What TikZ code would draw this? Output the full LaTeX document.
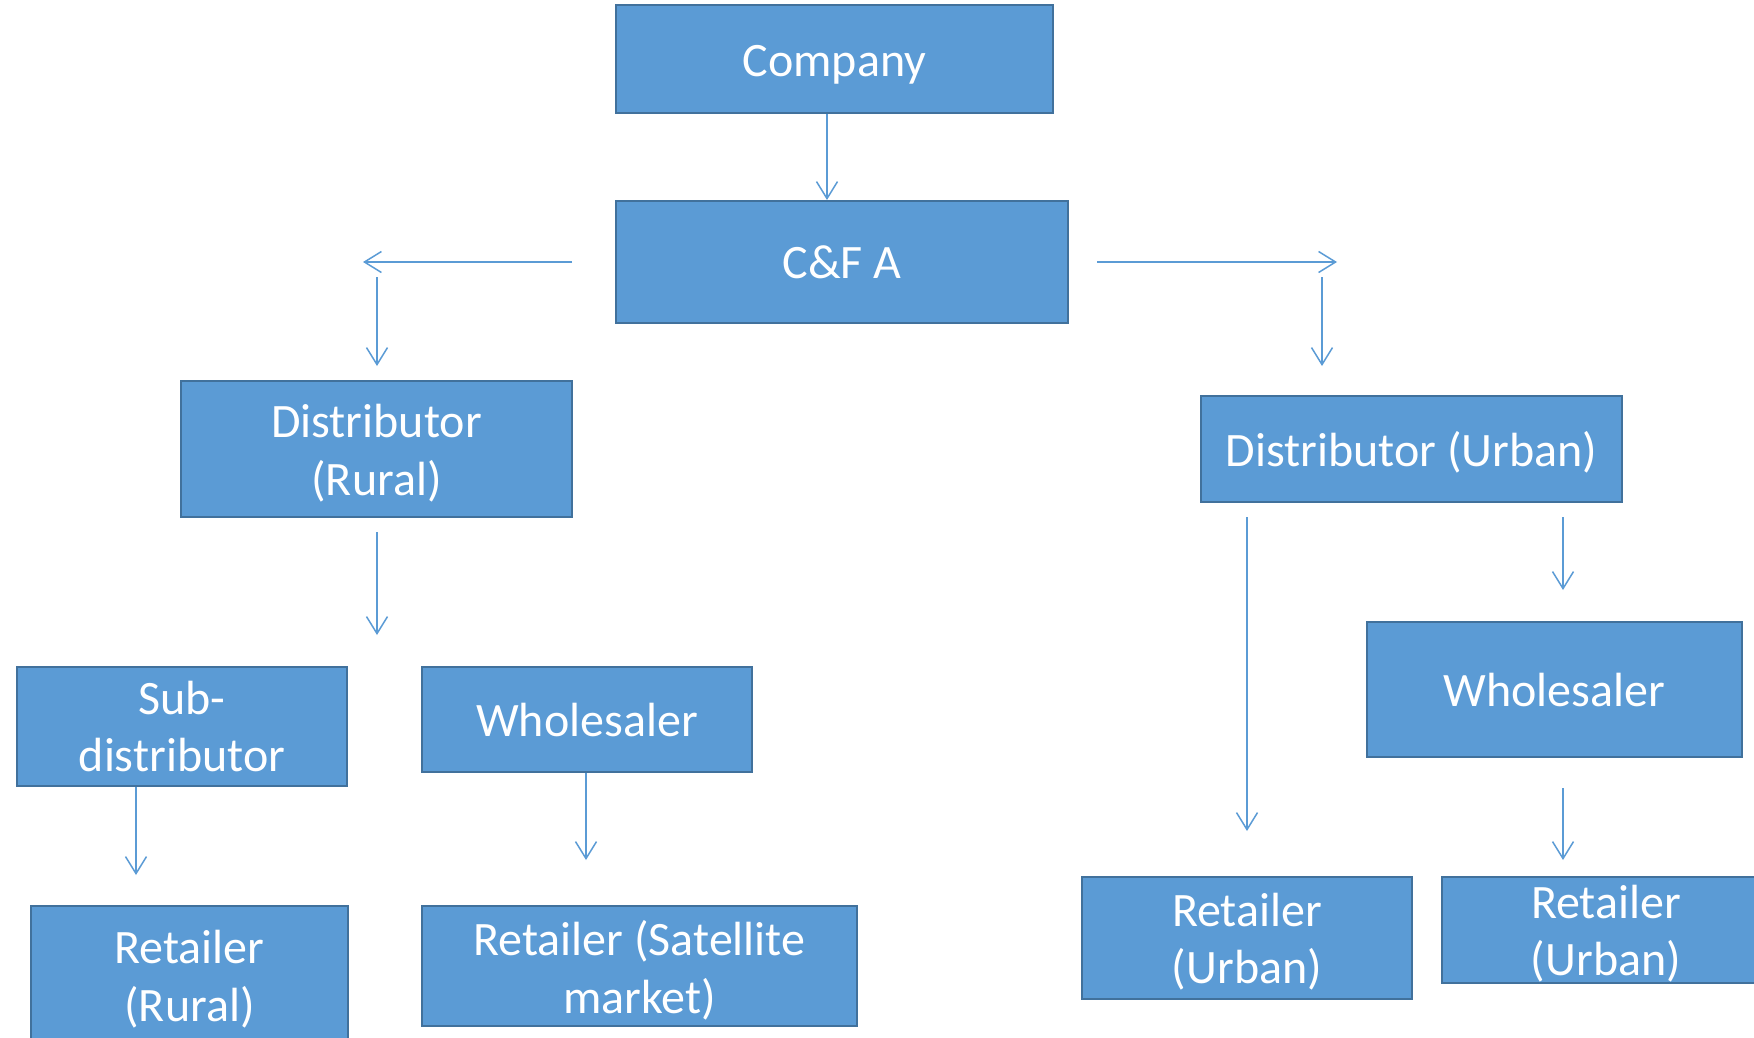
\documentclass[tikz,border=0pt]{standalone}
\usepackage{fontspec}
\setmainfont{Carlito}
\usetikzlibrary{arrows.meta,calc}
\definecolor{boxfill}{HTML}{5B9BD5}
\definecolor{boxline}{HTML}{41719C}
\definecolor{arrowblue}{HTML}{5B9BD5}
% lower a line of box text without changing the size of its box
\newcommand{\droptext}[2]{\raisebox{-#1}[\height][\depth]{#2}}
\tikzset{
  box/.style={draw=boxline, fill=boxfill, line width=2pt, text=white,
    align=center, inner sep=0pt, font=\fontsize{48}{57.6}\selectfont},
  flow/.style={draw=arrowblue, line width=1.5pt,
    -{Straight Barb[length=17pt,width=21pt,line width=1.5pt]}}
}
\begin{document}
\begin{tikzpicture}[x=1pt,y=-1pt]
  \useasboundingbox (0,0) rectangle (1754,1037);
  \clip (0,0) rectangle (1754,1037);

  % boxes
  \node[box, minimum width=437pt, minimum height=108pt] (company) at (834.5,59) {\droptext{5.5pt}{Company}};
  \node[box, minimum width=452pt, minimum height=122pt] (cfa) at (842,262) {C\&F A};
  \node[box, minimum width=391pt, minimum height=136pt] (distR) at (376.5,449)
    {\droptext{4pt}{Distributor}\\\droptext{4pt}{(Rural)}};
  \node[box, minimum width=421pt, minimum height=106pt] (distU) at (1411.5,449) {\droptext{3.5pt}{Distributor (Urban)}};
  \node[box, minimum width=330pt, minimum height=119pt] (subd) at (182,726.5) {Sub-\\distributor};
  \node[box, minimum width=330pt, minimum height=105pt] (wholeL) at (587,719.5) {Wholesaler};
  \node[box, minimum width=375pt, minimum height=135pt] (wholeR) at (1554.5,689.5) {Wholesaler};
  \node[box, minimum width=317pt, minimum height=140pt] (retR) at (189.5,976)
    {\droptext{3pt}{Retailer}\\\droptext{3pt}{(Rural)}};
  \node[box, minimum width=435pt, minimum height=120pt] (retSat) at (639.5,966)
    {\droptext{4.5pt}{Retailer (Satellite}\\\droptext{4.5pt}{market)}};
  \node[box, minimum width=330pt, minimum height=122pt] (retUL) at (1247,938)
    {\droptext{3.5pt}{Retailer}\\\droptext{3.5pt}{(Urban)}};
  \node[box, minimum width=328pt, minimum height=106pt] (retUR) at (1606,930)
    {\droptext{3.5pt}{Retailer}\\\droptext{3.5pt}{(Urban)}};

  % free ends of the connectors
  \coordinate (axis) at (827,0);
  \coordinate (cfaL) at (572,262);
  \coordinate (tipL) at (363,262);
  \coordinate (cfaR) at (1097,262);
  \coordinate (tipR) at (1337,262);
  \coordinate (downLa) at (377,277);
  \coordinate (downLb) at (377,366);
  \coordinate (downRa) at (1322,277);
  \coordinate (downRb) at (1322,366);
  \coordinate (drA) at (377,532);
  \coordinate (drB) at (377,635);
  \coordinate (sdB) at (136,875);
  \coordinate (wlB) at (586,860);
  \coordinate (duA) at (1247,517);
  \coordinate (duB) at (1247,831);
  \coordinate (duC) at (1563,517);
  \coordinate (duD) at (1563,590);
  \coordinate (wrA) at (1563,788);
  \coordinate (wrB) at (1563,860);

  % connectors
  \draw[flow] (company.south -| axis) -- (cfa.north -| axis);
  \draw[flow] (cfaL) -- (tipL);
  \draw[flow] (downLa) -- (downLb);
  \draw[flow] (cfaR) -- (tipR);
  \draw[flow] (downRa) -- (downRb);
  \draw[flow] (drA) -- (drB);
  \draw[flow] (subd.south -| sdB) -- (sdB);
  \draw[flow] (wholeL.south -| wlB) -- (wlB);
  \draw[flow] (duA) -- (duB);
  \draw[flow] (duC) -- (duD);
  \draw[flow] (wrA) -- (wrB);
\end{tikzpicture}
\end{document}
